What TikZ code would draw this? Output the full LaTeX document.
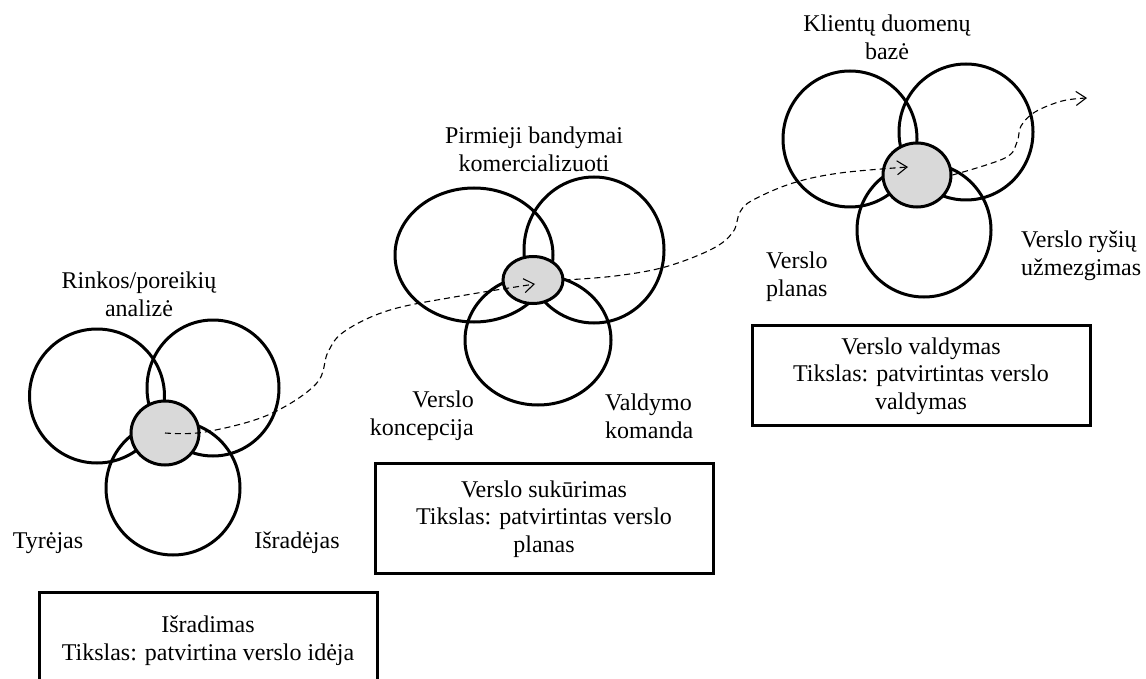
\documentclass[tikz,border=0pt]{standalone}
\usepackage{fontspec}
\setmainfont{Liberation Serif}
\usetikzlibrary{arrows.meta,shapes.geometric}
\begin{document}
\begin{tikzpicture}[x=1pt,y=-1pt,
  ring/.style={draw, ellipse, line width=3pt, inner sep=0pt},
  core/.style={draw, ellipse, line width=3pt, inner sep=0pt, fill=gray!30},
  txt/.style={inner sep=0pt, align=center, font=\fontsize{24}{27.6}\selectfont},
  frame/.style={draw, line width=3pt, inner sep=0pt, minimum width=338pt},
  flow/.style={line width=1.1pt, dash pattern=on 6pt off 4pt,
    -{Straight Barb[length=10pt,width=14pt,line width=1.1pt]}}]
\useasboundingbox (0,0) rectangle (1146,679);
\clip (0,0) rectangle (1146,679);

% --- stage 1: invention ---
\node[ring, minimum width=135pt, minimum height=134pt] (c1l) at (97,396) {};
\node[ring, minimum width=132pt, minimum height=136pt] (c1r) at (213,388) {};
\node[ring, minimum width=134pt, minimum height=134pt] (c1b) at (173,488) {};
\node[core, minimum width=68pt, minimum height=64pt] (g1) at (165,433) {};
\node[txt] (l1a) at (139,294) {Rinkos/poreikių\\analizė};
\node[txt] (l1b) at (48,543) {Tyrėjas};
\node[txt] (l1c) at (297,543) {Išradėjas};
\node[frame, minimum height=128pt] (box1) at (208,656) {};
\node[txt] (box1t) at (208,641) {Išradimas\\Tikslas: patvirtina verslo idėja};

% --- stage 2: business creation ---
\node[ring, minimum width=158pt, minimum height=134pt] (c2l) at (474,255) {};
\node[ring, minimum width=140pt, minimum height=146pt] (c2r) at (594,250) {};
\node[ring, minimum width=146pt, minimum height=130pt] (c2b) at (538,340) {};
\node[core, minimum width=60pt, minimum height=47pt] (g2) at (533,280) {};
\node[txt] (l2a) at (534,149) {Pirmieji bandymai\\komercializuoti};
\node[txt, align=right, anchor=east] (l2b) at (474,416) {Verslo\\koncepcija};
\node[txt, align=left, anchor=west] (l2c) at (605,416) {Valdymo\\komanda};
\node[frame, minimum height=110pt] (box2) at (544,518) {};
\node[txt] (box2t) at (544,519) {Verslo sukūrimas\\Tikslas: patvirtintas verslo\\planas};

% --- stage 3: business management ---
\node[ring, minimum width=134pt, minimum height=136pt] (c3l) at (850,139) {};
\node[ring, minimum width=134pt, minimum height=136pt] (c3r) at (966,132) {};
\node[ring, minimum width=134pt, minimum height=134pt] (c3b) at (924,230) {};
\node[core, minimum width=68pt, minimum height=64pt] (g3) at (917,175) {};
\node[txt] (l3a) at (887,37) {Klientų duomenų\\bazė};
\node[txt, align=left, anchor=west] (l3b) at (766,277) {Verslo\\planas};
\node[txt, align=left, anchor=west] (l3c) at (1021,256) {Verslo ryšių\\užmezgimas};
\node[frame, minimum height=100pt] (box3) at (921,375) {};
\node[txt] (box3t) at (921,376) {Verslo valdymas\\Tikslas: patvirtintas verslo\\valdymas};

% --- development path ---
\coordinate (a2) at (535,284);
\coordinate (a3) at (908,167);
\coordinate (a4) at (1087,98);
\draw[flow] plot[smooth, tension=0.6] coordinates {(g1.center) (205,432) (268,415)
  (316,384) (328,352) (345,331) (390,310) (460,296) (a2)};
\draw[flow] plot[smooth, tension=0.6] coordinates {(g2.east) (615,276) (665,267)
  (712,249) (733,232) (740,212) (753,200) (793,183) (840,173) (a3)};
\draw[flow] plot[smooth, tension=0.6] coordinates {(g3.east) (1005,158) (1017,142)
  (1021,126) (1035,112) (1062,101) (a4)};
\end{tikzpicture}
\end{document}
